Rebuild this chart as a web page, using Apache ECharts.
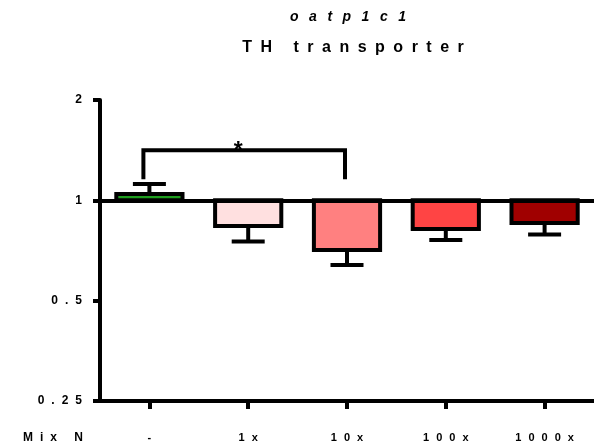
<!DOCTYPE html>
<html><head><meta charset="utf-8">
<script src="https://cdn.jsdelivr.net/npm/echarts@6/dist/echarts.min.js"></script>
<style>html,body{margin:0;padding:0;background:#fff}#c{width:594px;height:448px}</style>
</head><body><div id="c"></div>
<script>
const categories = ['-', '1x', '10x', '100x', '1000x'];
const means = [1.044, 0.838, 0.71, 0.82, 0.855];
const errEnds = [1.12, 0.752, 0.64, 0.76, 0.79];
const barColors = ['#1f9e1f', '#ffe0e0', '#ff8080', '#ff4444', '#a00000'];
const yTicks = [0.25, 0.5, 1, 2];
const bracketCats = [0, 2];
const bracketLevels = [1.414, 1.157];
const sigLabel = '*';
const titleText = 'oatp1c1';
const subtitleText = 'TH transporter';
const xAxisName = 'Mix N';

// wide letter spacing of the reference's text (style only), keyed by font size
const LETTER_SPACING = {11: 7, 12: 7, 14: 10.5, 16: 8.5};
(function () {
  const P = CanvasRenderingContext2D.prototype;
  const orig = P.fillText;
  P.fillText = function (t, x, y, w) {
    t = String(t);
    const m = /(\d+(?:\.\d+)?)px/.exec(this.font);
    const fs = m ? Math.round(parseFloat(m[1])) : 0;
    const sp = LETTER_SPACING[fs] || 0;
    if (!sp || t.length < 2) return orig.call(this, t, x, y);
    const chars = Array.from(t);
    const ws = chars.map(c => this.measureText(c).width);
    const total = ws.reduce((a, b) => a + b, 0) + sp * (chars.length - 1);
    const al = this.textAlign;
    let cx = x;
    if (al === 'center') cx = x - total / 2;
    else if (al === 'right' || al === 'end') cx = x - total;
    this.textAlign = 'left';
    chars.forEach((c, k) => { orig.call(this, c, cx, y); cx += ws[k] + sp; });
    this.textAlign = al;
  };
})();

const FONT = "'Liberation Sans', Arial, sans-serif";
const LW = 4;
const chart = echarts.init(document.getElementById('c'), null, {renderer: 'canvas'});

function renderBar(params, api) {
  const i = api.value(0), v = api.value(1), e = api.value(2);
  const base = api.coord([i, 1]);
  const end = api.coord([i, v]);
  const err = api.coord([i, e]);
  const bw = api.size([1, 0])[0] * 0.67;
  const cap = 16.5;
  const y0 = Math.min(base[1], end[1]);
  const h = Math.abs(base[1] - end[1]);
  return {
    type: 'group',
    children: [
      {type: 'line', shape: {x1: err[0], y1: end[1], x2: err[0], y2: err[1]}, style: {stroke: '#000', lineWidth: LW}},
      {type: 'line', shape: {x1: err[0] - cap, y1: err[1], x2: err[0] + cap, y2: err[1]}, style: {stroke: '#000', lineWidth: LW}},
      {type: 'rect', shape: {x: base[0] - bw / 2, y: y0, width: bw, height: h},
        style: {fill: barColors[i], stroke: '#000', lineWidth: LW}}
    ]
  };
}

function renderBracket(params, api) {
  const a = api.value(0), b = api.value(1), top = api.value(2), leg = api.value(3);
  const pA = api.coord([a, top]), pB = api.coord([b, top]);
  const lA = api.coord([a, leg]);
  const xa = pA[0] - 6, xb = pB[0] - 2;
  return {
    type: 'group',
    children: [
      {type: 'polyline', shape: {points: [[xa, lA[1]], [xa, pA[1]], [xb, pB[1]], [xb, lA[1]]]},
        style: {stroke: '#000', lineWidth: LW, fill: null}},
      {type: 'text', style: {x: (xa + xb) / 2 - 6, y: pA[1] + 1, text: sigLabel, textAlign: 'center', textVerticalAlign: 'middle',
        font: 'bold 23px ' + FONT, fill: '#000'}}
    ]
  };
}

chart.setOption({
  animation: false,
  backgroundColor: '#fff',
  grid: {left: 100, top: 100, width: 500, height: 301, containLabel: false},
  graphic: [
    {type: 'text', style: {x: 348, y: 17, text: titleText, textAlign: 'center', textVerticalAlign: 'middle', font: 'italic bold 14px ' + FONT, fill: '#000'}},
    {type: 'text', style: {x: 353, y: 48, text: subtitleText, textAlign: 'center', textVerticalAlign: 'middle', font: 'bold 16px ' + FONT, fill: '#000'}},
    {type: 'text', style: {x: 23, y: 438, text: xAxisName, textAlign: 'left', textVerticalAlign: 'middle', font: 'bold 12px ' + FONT, fill: '#000'}}
  ],
  xAxis: {
    type: 'category', data: categories,
    axisLine: {lineStyle: {color: '#000', width: LW}},
    axisTick: {show: true, interval: 0, alignWithLabel: true, length: 8, lineStyle: {color: '#000', width: LW}},
    axisLabel: {color: '#000', fontWeight: 'bold', fontSize: 11, fontFamily: FONT, margin: 31, interval: 0}
  },
  yAxis: {
    type: 'log', logBase: 2, min: 0.25, max: 2, interval: 1,
    axisLine: {show: true, lineStyle: {color: '#000', width: LW}},
    axisTick: {show: true, length: 7, lineStyle: {color: '#000', width: LW}},
    splitLine: {show: false},
    axisLabel: {color: '#000', fontWeight: 'bold', fontSize: 12, fontFamily: FONT, margin: 18,
      formatter: function (v) {
        let best = yTicks[0];
        yTicks.forEach(t => { if (Math.abs(Math.log2(t) - Math.log2(v)) < Math.abs(Math.log2(best) - Math.log2(v))) best = t; });
        return String(best);
      }}
  },
  series: [
    {
      type: 'custom', renderItem: renderBar, clip: false,
      data: categories.map((c, i) => [i, means[i], errEnds[i]]),
      encode: {x: 0, y: [1, 2]},
      markLine: {silent: true, symbol: 'none', label: {show: false},
        lineStyle: {color: '#000', width: LW, type: 'solid'}, data: [{yAxis: 1}]}
    },
    {
      type: 'custom', renderItem: renderBracket, clip: false,
      data: [[bracketCats[0], bracketCats[1], bracketLevels[0], bracketLevels[1]]],
      encode: {x: [0, 1], y: [2, 3]}
    }
  ]
});
</script></body></html>
